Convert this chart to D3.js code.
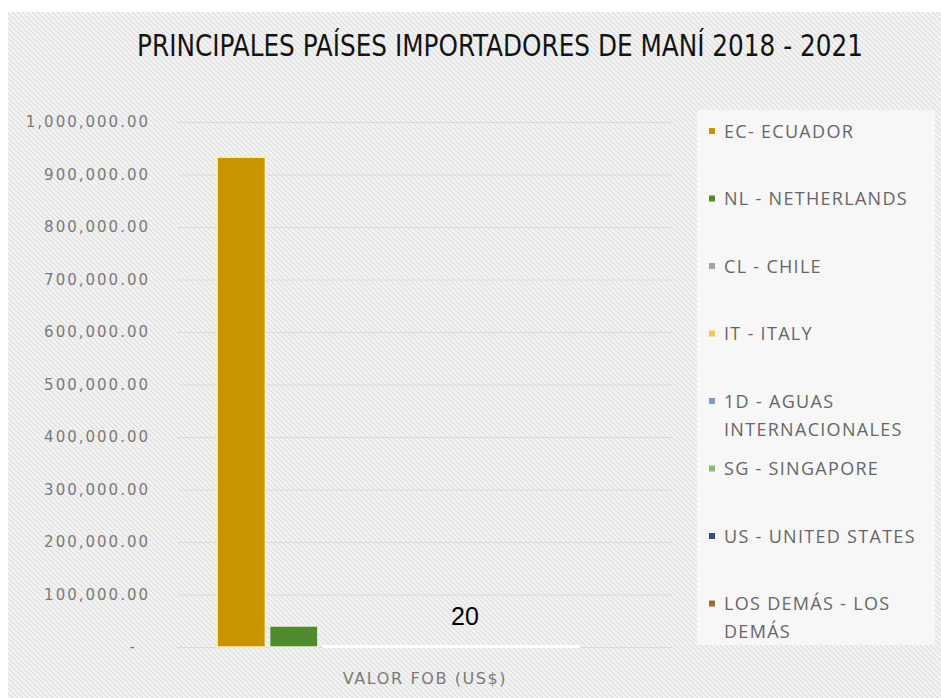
<!DOCTYPE html>
<html lang="es">
<head>
    <meta charset="utf-8" />
    <title>Principales países importadores de maní 2018-2021</title>
    <script src="https://d3js.org/d3.v7.min.js"></script>
    <style>
        body { margin: 0; background: #fff; }
        svg { display: block; }
    </style>
</head>
<body>
    <script>
        // data
        var category = ["VALOR FOB (US$)"];
        var countries = ["EC- ECUADOR", "NL - NETHERLANDS", "CL - CHILE", "IT - ITALY",
            "1D - AGUAS INTERNACIONALES", "SG - SINGAPORE", "US - UNITED STATES", "LOS DEMÁS - LOS DEMÁS"];
        var legendLines = [["EC- ECUADOR"], ["NL - NETHERLANDS"], ["CL - CHILE"], ["IT - ITALY"],
            ["1D - AGUAS", "INTERNACIONALES"], ["SG - SINGAPORE"], ["US - UNITED STATES"], ["LOS DEMÁS - LOS", "DEMÁS"]];
        var values = [933000, 40000, 0, 0, 0, 0, 0, 0];
        var colors = ["#c89500", "#4f8a2f", "#a5a5a5", "#f2c94c", "#7e9cc0", "#8db870", "#3b4e78", "#a66a2e"];
        var yTicks = [0, 100000, 200000, 300000, 400000, 500000, 600000, 700000, 800000, 900000, 1000000];

        var w = 941;
        var h = 698;
        var plotLeft = 178, plotRight = 672, plotTop = 122, plotBottom = 647;

        var svg = d3.select("body").append("svg")
            .attr("width", w)
            .attr("height", h);

        // hatched background like the Excel chart area
        var defs = svg.append("defs");
        var pat = defs.append("pattern")
            .attr("id", "hatch")
            .attr("patternUnits", "userSpaceOnUse")
            .attr("width", 5)
            .attr("height", 5);
        pat.append("rect").attr("width", 5).attr("height", 5).attr("fill", "#f4f4f4");
        pat.append("path")
            .attr("d", "M0,0 L5,5 M-1,4 L1,6 M4,-1 L6,1")
            .attr("stroke", "#dddddd")
            .attr("stroke-width", 1.2);

        svg.append("rect")
            .attr("x", 8).attr("y", 12)
            .attr("width", w - 8).attr("height", h - 12)
            .attr("fill", "url(#hatch)");

        // title, squeezed horizontally to the width of the original condensed font
        var titleG = svg.append("g");
        var title = titleG.append("text")
            .attr("text-anchor", "middle")
            .attr("font-family", "Liberation Sans Narrow, DejaVu Sans Condensed, sans-serif")
            .attr("font-size", "31px")
            .attr("fill", "#141414")
            .text("PRINCIPALES PAÍSES IMPORTADORES DE MANÍ 2018 - 2021");
        var k = Math.min(1, 726 / title.node().getComputedTextLength());
        titleG.attr("transform", "translate(500,56) scale(" + k + ",1)");

        var yScale = d3.scaleLinear()
            .domain([0, 1000000])
            .range([plotBottom, plotTop]);

        var x0 = d3.scaleBand()
            .domain(category)
            .range([plotLeft, plotRight])
            .paddingOuter(0.094);

        var x1 = d3.scaleBand()
            .domain(countries)
            .range([0, x0.bandwidth()])
            .paddingInner(0.08);

        // gridlines
        svg.append("g")
            .attr("transform", "translate(" + plotLeft + ",0)")
            .call(d3.axisLeft(yScale).tickValues(yTicks).tickSize(-(plotRight - plotLeft)).tickFormat(""))
            .call(function (g) { g.select(".domain").remove(); })
            .selectAll("line")
            .attr("stroke", "#d9d9d9")
            .attr("stroke-width", 1.2);

        // y tick labels
        var fmt = d3.format(",.2f");
        var yAxis = svg.append("g")
            .attr("transform", "translate(150,0)")
            .call(d3.axisLeft(yScale).tickValues(yTicks).tickSize(0).tickPadding(0)
                .tickFormat(function (d) { return d === 0 ? "-" : fmt(d); }));
        yAxis.select(".domain").remove();
        yAxis.selectAll("text")
            .attr("font-family", "DejaVu Sans, sans-serif")
            .attr("font-size", "15px")
            .attr("letter-spacing", "2px")
            .attr("fill", "#7a7a7a")
            .attr("dx", function (d) { return d === 0 ? -13 : 0; });

        // bars
        var barG = svg.append("g")
            .attr("transform", "translate(" + x0(category[0]) + ",0)");

        barG.selectAll("rect")
            .data(values)
            .enter()
            .append("rect")
            .attr("x", function (d, i) { return x1(countries[i]); })
            .attr("y", function (d) { return yScale(d); })
            .attr("width", x1.bandwidth())
            .attr("height", function (d) { return yScale(0) - yScale(d); })
            .attr("fill", function (d, i) { return colors[i]; })
            .attr("stroke", function (d, i) { return i === 0 ? "#fff0b8" : "#eaf3e0"; })
            .attr("stroke-width", 1.5);

        // white strip over the baseline (the zero bars)
        barG.append("rect")
            .attr("x", x1(countries[2]))
            .attr("y", yScale(0) - 2)
            .attr("width", x1(countries[6]) + x1.bandwidth() - x1(countries[2]))
            .attr("height", 3)
            .attr("fill", "#ffffff");

        // category label
        svg.append("text")
            .attr("x", x0(category[0]) + x0.bandwidth() / 2)
            .attr("y", 684)
            .attr("text-anchor", "middle")
            .attr("font-family", "DejaVu Sans, sans-serif")
            .attr("font-size", "16px")
            .attr("letter-spacing", "1.6px")
            .attr("fill", "#7a7a7a")
            .text(category[0]);

        // page number printed over the chart
        svg.append("text")
            .attr("x", 465)
            .attr("y", 625)
            .attr("text-anchor", "middle")
            .attr("font-family", "Liberation Sans, sans-serif")
            .attr("font-size", "25px")
            .attr("fill", "#000")
            .text("20");

        // legend
        var legend = svg.append("g");
        legend.append("rect")
            .attr("x", 697).attr("y", 110)
            .attr("width", 238).attr("height", 535)
            .attr("fill", "#f7f7f7");

        var item = legend.selectAll("g.item")
            .data(legendLines)
            .enter()
            .append("g")
            .attr("class", "item")
            .attr("transform", function (d, i) { return "translate(709," + (131 + i * 67.5) + ")"; });

        item.append("rect")
            .attr("x", 0).attr("y", -3)
            .attr("width", 6).attr("height", 6)
            .attr("fill", function (d, i) { return colors[i]; });

        item.selectAll("text")
            .data(function (d) { return d; })
            .enter()
            .append("text")
            .attr("x", 15)
            .attr("y", function (d, j) { return j * 28 + 6.5; })
            .attr("font-family", "Open Sans, sans-serif")
            .attr("font-size", "18px")
            .attr("letter-spacing", "1.3px")
            .attr("fill", "#666")
            .text(function (d) { return d; });
    </script>
</body>
</html>
